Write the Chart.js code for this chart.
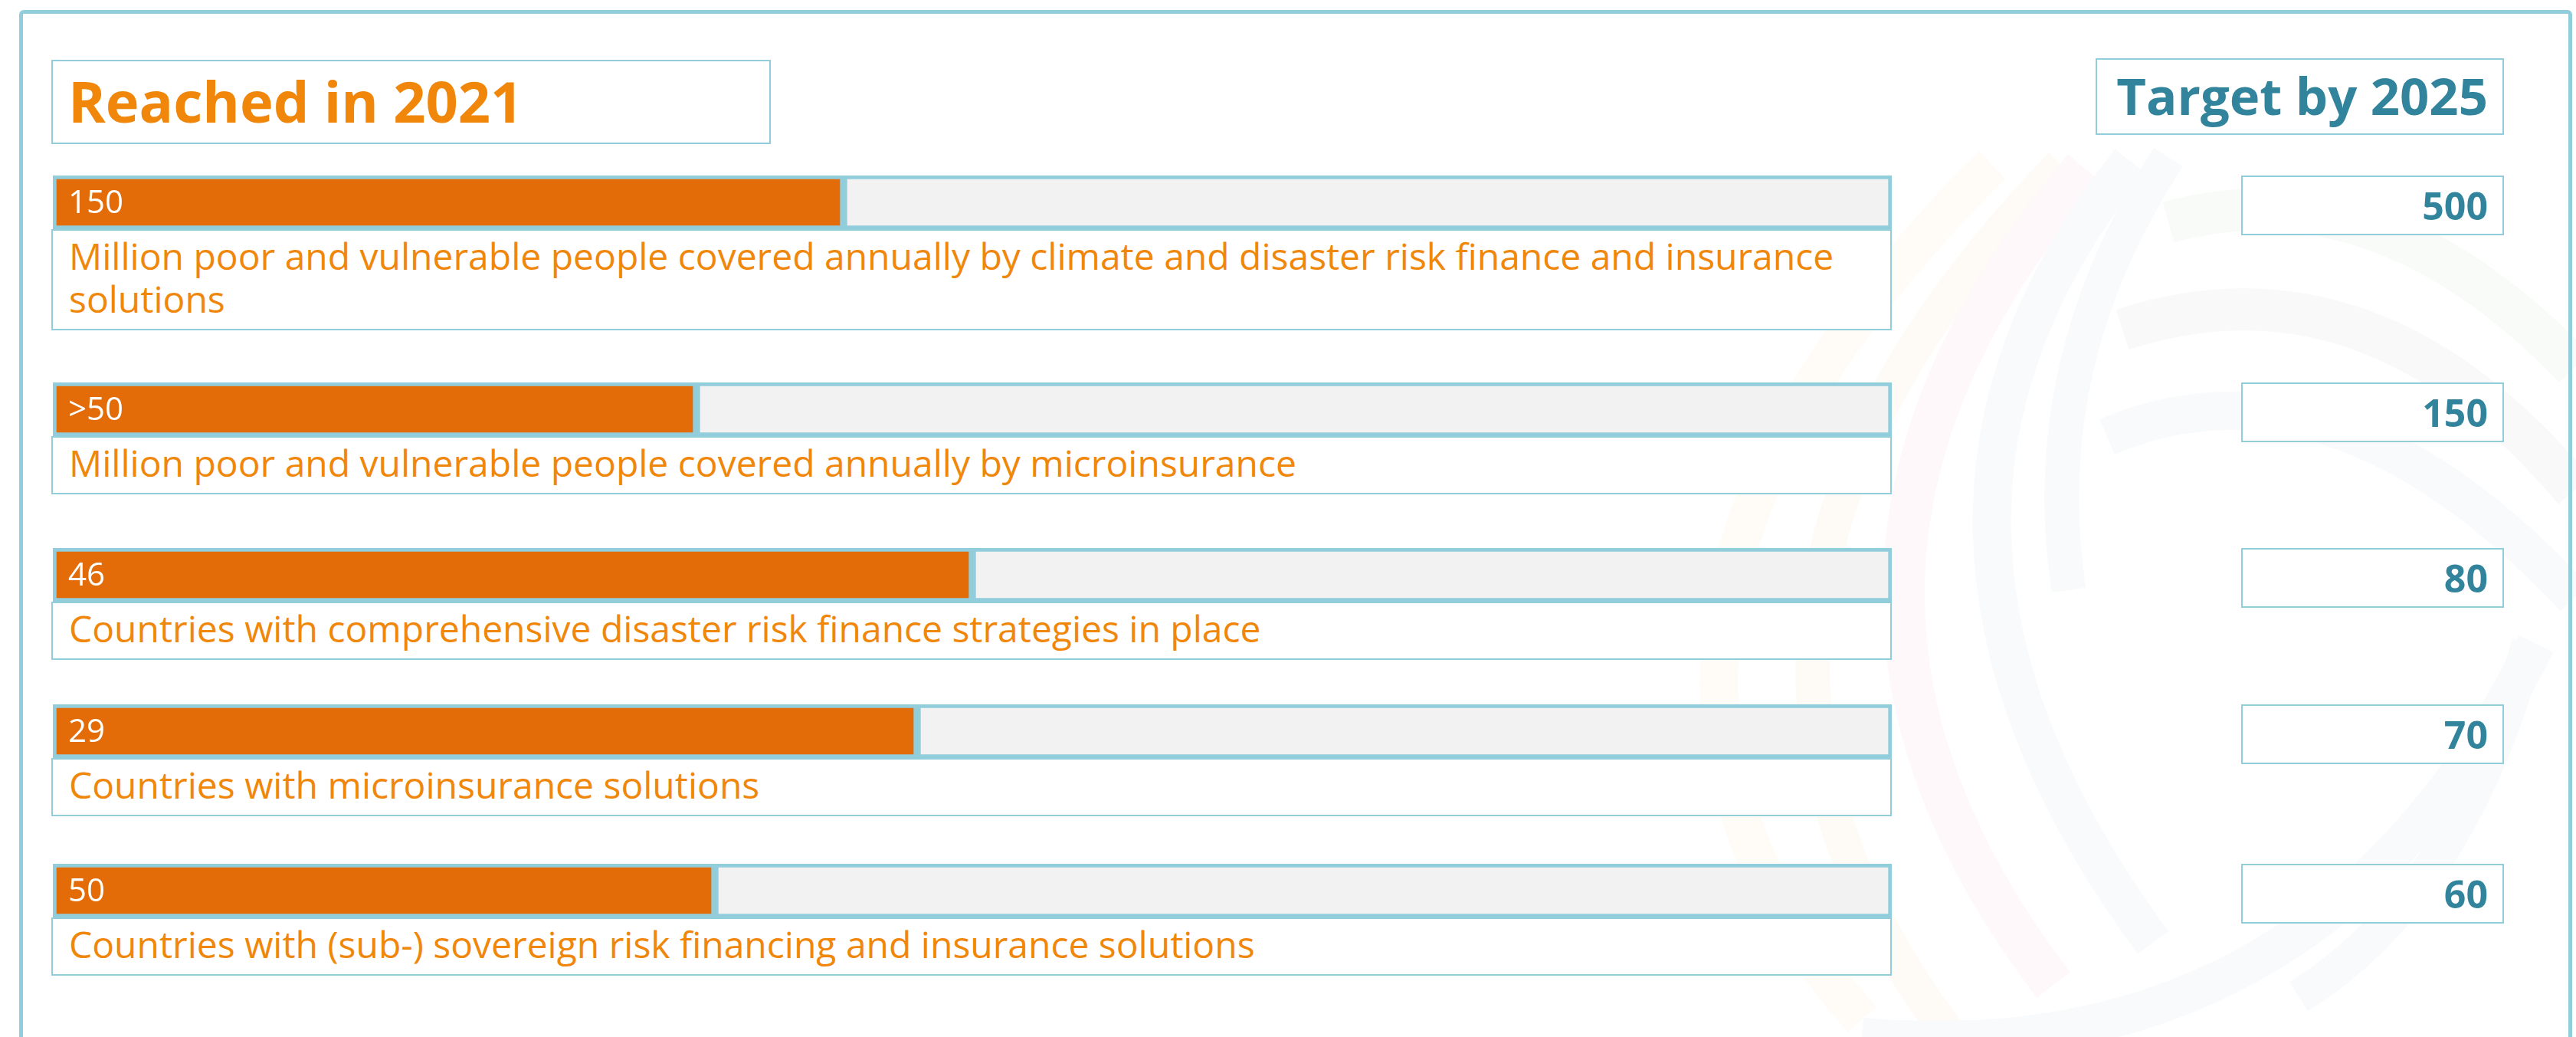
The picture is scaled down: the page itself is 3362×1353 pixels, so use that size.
<!DOCTYPE html>
<html>
<head>
<meta charset="utf-8">
<script src="https://cdn.jsdelivr.net/npm/chart.js@4.4.1/dist/chart.umd.min.js"></script>
<style>
  html, body { margin: 0; padding: 0; background: #fff; }
  body { width: 3362px; height: 1353px; overflow: hidden; position: relative; font-family: "Open Sans", sans-serif; }
  .frame { position: absolute; left: 25px; top: 13px; width: 3332px; height: 1420px; box-sizing: border-box; border: 5px solid #92cddc; border-radius: 6px; }
  #swirl { position: absolute; left: 0; top: 0; }
  .head { position: absolute; box-sizing: border-box; border: 2px solid #92cddc; background: #fff; font-weight: 700; white-space: nowrap; }
  .head.reached { left: 67px; top: 78px; width: 939px; height: 110px; color: #f0870a; font-size: 74px; line-height: 104px; padding-left: 20px; }
  .head.target { left: 2735px; top: 76px; width: 533px; height: 100px; color: #31849b; font-size: 67px; line-height: 92px; text-align: right; padding-right: 19px; }
  #rows { position: absolute; left: 67px; top: 229px; width: 2402px; }
  .row { position: relative; }
  .row:nth-child(1) { margin-bottom: 68px; }
  .row:nth-child(2) { margin-bottom: 70px; }
  .row:nth-child(3) { margin-bottom: 58px; }
  .row:nth-child(4) { margin-bottom: 62px; }
  .track { position: relative; margin-left: 2px; width: 2400px; height: 70px; }
  .desc { box-sizing: border-box; border: 2px solid #92cddc; background: #fff; color: #f0870a; font-size: 48px; line-height: 56px; padding: 5px 21px 11px 21px; }
  .goal { position: absolute; left: 2858px; top: 0px; width: 343px; height: 78px; box-sizing: border-box; border: 2px solid #92cddc; background: #fff; color: #31849b; font-weight: 700; font-size: 50px; line-height: 74px; text-align: right; padding-right: 19px; }
</style>
</head>
<body>
<svg id="swirl" width="3362" height="1353"></svg>
<div class="frame"></div>

<div class="head reached">Reached in 2021</div>
<div class="head target">Target by 2025</div>
<div id="rows"></div>

<script>
// indicator descriptions
const categories = [
  "Million poor and vulnerable people covered annually by climate and disaster risk finance and insurance solutions",
  "Million poor and vulnerable people covered annually by microinsurance",
  "Countries with comprehensive disaster risk finance strategies in place",
  "Countries with microinsurance solutions",
  "Countries with (sub-) sovereign risk financing and insurance solutions"
];
// value printed inside each bar (reached in 2021)
const reachedLabels = ["150", ">50", "46", "29", "50"];
// share of the track that is filled, in %
const progress = [43, 35, 50, 47, 36];
// target by 2025
const targets = [500, 150, 80, 70, 60];

const ORANGE = "#e36c09";
const TRACK = "#f2f2f2";
const EDGE = "#92cddc";

// faint logo swirl in the background (decoration only)
const swirl = [
  [[2600, 215], [2250, 800], [2430, 1330], 50, "#fffcf7"],
  [[2690, 215], [2370, 800], [2560, 1370], 45, "#fefbf7"],
  [[2720, 219], [2485, 750], [2680, 1285], 55, "#fef8fa"],
  [[2780, 210], [2600, 700], [2810, 1230], 50, "#f8fafc"],
  [[2830, 205], [2710, 480], [2700, 770], 45, "#f8fafb"],
  [[2830, 290], [3100, 300], [3360, 480], 55, "#f8fbf8"],
  [[2770, 430], [3080, 430], [3360, 640], 55, "#f9f9f9"],
  [[2750, 570], [3050, 560], [3360, 780], 50, "#f8fafb"],
  [[2430, 1353], [2950, 1250], [3310, 840], 50, "#f8fafb"],
  [[3300, 840], [3180, 1120], [3000, 1300], 45, "#f9fafb"]
];
(function drawSwirl() {
  const svg = document.getElementById("swirl");
  swirl.forEach(([a, m, b, w, c]) => {
    const cx = 2 * m[0] - (a[0] + b[0]) / 2;
    const cy = 2 * m[1] - (a[1] + b[1]) / 2;
    const p = document.createElementNS("http://www.w3.org/2000/svg", "path");
    p.setAttribute("d", `M${a[0]} ${a[1]} Q${cx} ${cy} ${b[0]} ${b[1]}`);
    p.setAttribute("fill", "none");
    p.setAttribute("stroke", c);
    p.setAttribute("stroke-width", w);
    svg.appendChild(p);
  });
})();

Chart.defaults.font.family = "'Open Sans', sans-serif";

const valueLabel = {
  id: "valueLabel",
  afterDatasetsDraw(chart, args, opts) {
    const bar = chart.getDatasetMeta(0).data[0];
    const ctx = chart.ctx;
    ctx.save();
    ctx.fillStyle = "#fff";
    ctx.font = "42px 'Open Sans'";
    ctx.textBaseline = "middle";
    ctx.fillText(opts.text, bar.base + 20, bar.y + 2);
    ctx.restore();
  }
};

function build() {
  const rows = document.getElementById("rows");
  categories.forEach((cat, i) => {
    const row = document.createElement("div");
    row.className = "row";

    const track = document.createElement("div");
    track.className = "track";
    const canvas = document.createElement("canvas");
    track.appendChild(canvas);
    row.appendChild(track);

    const desc = document.createElement("div");
    desc.className = "desc";
    desc.textContent = cat;
    row.appendChild(desc);

    const goal = document.createElement("div");
    goal.className = "goal";
    goal.textContent = targets[i];
    row.appendChild(goal);

    rows.appendChild(row);

    new Chart(canvas, {
      type: "bar",
      data: {
        labels: [cat],
        datasets: [
          {
            label: "Reached in 2021",
            data: [progress[i]],
            backgroundColor: ORANGE,
            borderColor: EDGE,
            borderWidth: 5,
            borderSkipped: false
          },
          {
            label: "Remaining",
            data: [100 - progress[i]],
            backgroundColor: TRACK,
            borderColor: EDGE,
            borderWidth: 5,
            borderSkipped: false
          }
        ]
      },
      options: {
        indexAxis: "y",
        responsive: true,
        maintainAspectRatio: false,
        animation: false,
        events: [],
        barPercentage: 1,
        categoryPercentage: 1,
        layout: { padding: 0 },
        scales: {
          x: { stacked: true, min: 0, max: 100, display: false },
          y: { stacked: true, display: false }
        },
        plugins: {
          legend: { display: false },
          tooltip: { enabled: false },
          valueLabel: { text: reachedLabels[i] }
        }
      },
      plugins: [valueLabel]
    });
  });
}

document.fonts.load("42px 'Open Sans'").then(build, build);
</script>
</body>
</html>
